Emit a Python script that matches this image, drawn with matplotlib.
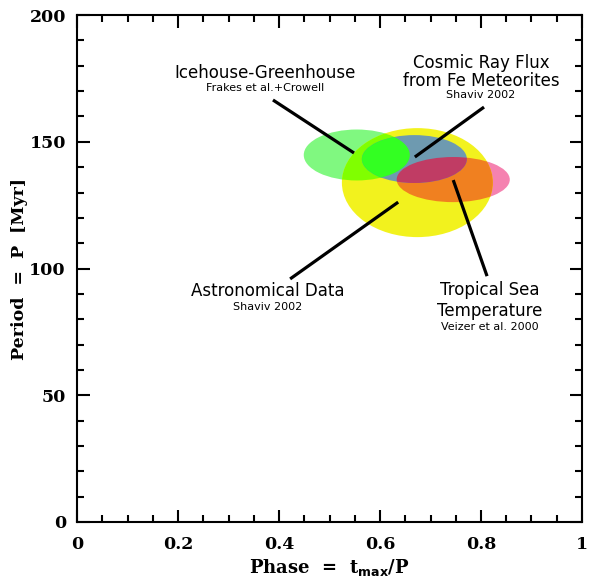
import matplotlib
matplotlib.use("Agg")
import matplotlib.pyplot as plt
from matplotlib.patches import Ellipse
from matplotlib.ticker import MultipleLocator

# ellipses: center phase, center period, full width (phase), full height (Myr)
names = ["Astronomical", "Icehouse", "Cosmic", "Tropical"]
phase_c = [0.674, 0.554, 0.668, 0.745]
period_c = [133.9, 144.8, 143.2, 135.1]
phase_w = [0.299, 0.210, 0.208, 0.224]
period_h = [43.0, 20.1, 18.9, 17.8]

# labels and pointer lines
label_x = [0.372, 0.800, 0.378, 0.818]
label_lines = [
    ["Icehouse-Greenhouse", "Frakes et al.+Crowell"],
    ["Cosmic Ray Flux", "from Fe Meteorites", "Shaviv 2002"],
    ["Astronomical Data", "Shaviv 2002"],
    ["Tropical Sea", "Temperature", "Veizer et al. 2000"],
]
label_y = [
    [177.2, 171.2],
    [181.2, 174.1, 168.4],
    [91.2, 84.9],
    [91.5, 83.2, 77.0],
]
label_big = [[True, False], [True, True, False], [True, False], [True, True, False]]

line_x = [[0.388, 0.5485], [0.806, 0.669], [0.422, 0.636], [0.745, 0.812]]
line_y = [[166.5, 145.6], [163.7, 144.0], [95.9, 126.2], [134.9, 97.0]]

fig = plt.figure(figsize=(6.07, 5.80), dpi=100)
ax = fig.add_axes([0.1269, 0.1, 0.8319, 0.874])

def ell(i, color, clip=None, z=1):
    e = Ellipse((phase_c[i], period_c[i]), phase_w[i], period_h[i],
                facecolor=color, edgecolor="none", zorder=z)
    ax.add_patch(e)
    if clip is not None:
        e.set_clip_path(clip)
    return e

# plain parts
ell(1, "#80f880", z=1)
ell(3, "#f582b0", z=1)
yel = ell(0, "#f2f21e", z=2)
# overlaps with the astronomical ellipse
ell(1, "#80ff00", clip=yel, z=3)
ell(3, "#f08020", clip=yel, z=3)
blu = ell(2, "#6e9ab0", z=4)
# overlaps with the cosmic ray ellipse
ell(1, "#33ff22", clip=blu, z=5)
ell(3, "#c03c64", clip=blu, z=5)

for lx, ly in zip(line_x, line_y):
    ax.plot(lx, ly, color="black", lw=2.3, solid_capstyle="butt", zorder=6)

for x, lines, ys, big in zip(label_x, label_lines, label_y, label_big):
    for t, y, b in zip(lines, ys, big):
        ax.text(x, y, t, ha="center", va="center",
                fontsize=12 if b else 8, family="DejaVu Sans", zorder=7)

ax.set_xlim(0, 1)
ax.set_ylim(0, 200)
ax.xaxis.set_major_locator(MultipleLocator(0.2))
ax.xaxis.set_minor_locator(MultipleLocator(0.05))
ax.yaxis.set_major_locator(MultipleLocator(50))
ax.yaxis.set_minor_locator(MultipleLocator(10))
ax.set_xticks([0, 0.2, 0.4, 0.6, 0.8, 1], ["0", "0.2", "0.4", "0.6", "0.8", "1"])

ax.tick_params(which="both", direction="in", top=True, right=True, width=1.5)
ax.tick_params(which="major", length=9)
ax.tick_params(which="minor", length=5)
ax.tick_params(axis="x", which="major", pad=10)
ax.tick_params(axis="y", which="major", pad=8)
for lab in ax.get_xticklabels() + ax.get_yticklabels():
    lab.set_family("DejaVu Serif")
    lab.set_fontweight("bold")
    lab.set_fontsize(12.5)
for s in ax.spines.values():
    s.set_linewidth(1.5)

ax.set_xlabel(r"Phase  =  t$_{\mathbf{max}}$/P", family="DejaVu Serif",
              fontweight="bold", fontsize=13, labelpad=3)
ax.set_ylabel("Period  =  P  [Myr]", family="DejaVu Serif",
              fontweight="bold", fontsize=12.5)
ax.yaxis.set_label_coords(-0.098, 0.5)

fig.savefig("out.png", dpi=100)
